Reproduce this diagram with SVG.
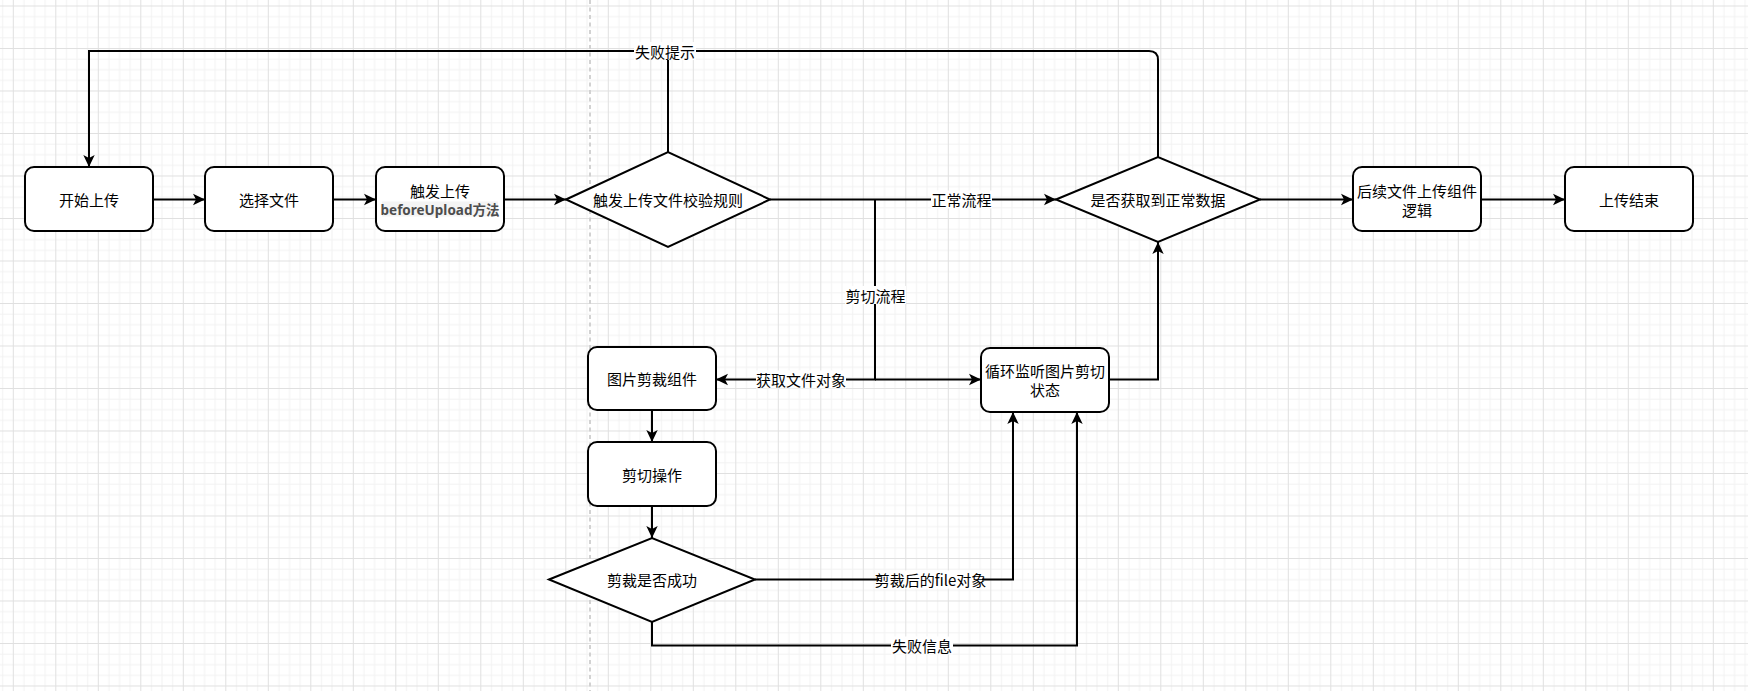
<svg xmlns="http://www.w3.org/2000/svg" width="1748" height="691" viewBox="0 0 1748 691">
<defs>
<pattern id="grid" patternUnits="userSpaceOnUse" x="12.8" y="5.5" width="42.5" height="42.5">
<path d="M11.125 0V42.5M21.75 0V42.5M32.375 0V42.5M0 11.125H42.5M0 21.75H42.5M0 32.375H42.5" stroke="#f2f2f2" stroke-width="1" fill="none"/>
<path d="M0.5 0V42.5M0 0.5H42.5" stroke="#e0e0e0" stroke-width="1" fill="none"/>
</pattern>
<marker id="arr" markerUnits="userSpaceOnUse" markerWidth="14" markerHeight="13" refX="12.5" refY="6.5" orient="auto" viewBox="0 0 14 13">
<path d="M0.5,0.8 L12.5,6.5 L0.5,12.2 L3.5,6.5 Z" fill="#000"/>
</marker>
</defs>
<style>
.box{fill:#fff;stroke:#000;stroke-width:2}
.t{font-family:"Noto Sans CJK SC","Noto Sans",sans-serif;font-size:15px;fill:#000;text-anchor:middle;dominant-baseline:central}
.e{fill:none;stroke:#000;stroke-width:2}
.a{marker-end:url(#arr)}
.lb{fill:#fff}
.bu{font-family:"Noto Sans","Noto Sans CJK SC",sans-serif;font-size:13.5px;font-weight:bold;fill:#4d4d4d;text-anchor:middle;dominant-baseline:central}
</style>
<rect x="0" y="0" width="1748" height="691" fill="#fff"/>
<rect x="0" y="0" width="1748" height="691" fill="url(#grid)"/>
<line x1="590" y1="0" x2="590" y2="691" stroke="#d2d2d2" stroke-width="2" stroke-dasharray="4 3.5"/>

<g id="connectors">
<path class="e a" d="M153,199.5H205"/>
<path class="e a" d="M333,199.5H376"/>
<path class="e a" d="M504,199.5H566"/>
<path class="e a" d="M770,199.5H1056"/>
<path class="e a" d="M1158,157V60Q1158,51 1149,51H89V167"/>
<path class="e" d="M668,152V51"/>
<path class="e a" d="M875,199.5V379.5H716"/>
<path class="e a" d="M875,379.5H981"/>
<path class="e a" d="M652,410V442"/>
<path class="e a" d="M652,506V538"/>
<path class="e a" d="M755,579.5H1013V412"/>
<path class="e a" d="M652,622V645.5H1077V412"/>
<path class="e a" d="M1109,379.5H1158V242"/>
<path class="e a" d="M1260,199.5H1353"/>
<path class="e a" d="M1481,199.5H1565"/>
<rect class="lb" x="634" y="42" width="62" height="18"/>
<text class="t" x="665" y="51">失败提示</text>
<rect class="lb" x="931" y="190.5" width="61" height="18"/>
<text class="t" x="961.5" y="199.5">正常流程</text>
<rect class="lb" x="845" y="286" width="61" height="18"/>
<text class="t" x="875.5" y="295">剪切流程</text>
<rect class="lb" x="756" y="370.5" width="90" height="18"/>
<text class="t" x="801" y="379.5">获取文件对象</text>
<rect class="lb" x="879" y="570.5" width="103" height="18"/>
<text class="t" x="930.5" y="579.5">剪裁后的file对象</text>
<rect class="lb" x="891" y="636.5" width="62" height="18"/>
<text class="t" x="922" y="645.5">失败信息</text>
</g>

<g id="n-start">
<rect class="box" x="25" y="167" width="128" height="64" rx="9"/>
<text class="t" x="89" y="199">开始上传</text>
</g>
<g id="n-select">
<rect class="box" x="205" y="167" width="128" height="64" rx="9"/>
<text class="t" x="269" y="199">选择文件</text>
</g>
<g id="n-trigger">
<rect class="box" x="376" y="167" width="128" height="64" rx="9"/>
<text class="t" x="440" y="190.5">触发上传</text>
<rect x="382" y="201.5" width="116" height="15" fill="#f4f4f4"/>
<text class="bu" x="440" y="209.5">beforeUpload方法</text>
</g>
<g id="d-validate">
<polygon class="box" points="566,199.5 668,152 770,199.5 668,247"/>
<text class="t" x="668" y="199">触发上传文件校验规则</text>
</g>
<g id="d-normal">
<polygon class="box" points="1056,199.5 1158,157 1260,199.5 1158,242"/>
<text class="t" x="1158" y="199">是否获取到正常数据</text>
</g>
<g id="n-follow">
<rect class="box" x="1353" y="167" width="128" height="64" rx="9"/>
<text class="t" x="1417" y="190.5">后续文件上传组件</text>
<text class="t" x="1417" y="209.5">逻辑</text>
</g>
<g id="n-end">
<rect class="box" x="1565" y="167" width="128" height="64" rx="9"/>
<text class="t" x="1629" y="199">上传结束</text>
</g>
<g id="n-cropper">
<rect class="box" x="588" y="347" width="128" height="63" rx="9"/>
<text class="t" x="652" y="378.5">图片剪裁组件</text>
</g>
<g id="n-cut">
<rect class="box" x="588" y="442" width="128" height="64" rx="9"/>
<text class="t" x="652" y="474">剪切操作</text>
</g>
<g id="d-success">
<polygon class="box" points="549,579.5 652,538 755,579.5 652,622"/>
<text class="t" x="652" y="579">剪裁是否成功</text>
</g>
<g id="n-loop">
<rect class="box" x="981" y="348" width="128" height="64" rx="9"/>
<text class="t" x="1045" y="370.5">循环监听图片剪切</text>
<text class="t" x="1045" y="389">状态</text>
</g>
</svg>
